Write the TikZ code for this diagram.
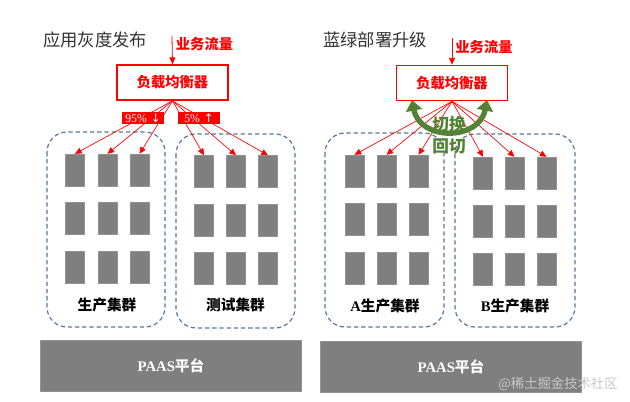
\documentclass[tikz,border=0pt]{standalone}
\usepackage{fontspec}
\setmainfont{Liberation Serif}
\newfontfamily\cjk{Noto Sans CJK SC}
\newfontfamily\symfont{DejaVu Sans}
\usetikzlibrary{arrows.meta,calc}
\definecolor{myred}{RGB}{255,0,0}
\definecolor{srvgray}{RGB}{127,127,127}
\definecolor{dashblue}{RGB}{84,120,160}
\definecolor{swgreen}{RGB}{84,130,53}
\definecolor{titlegray}{RGB}{50,50,50}
\newcommand\latb[1]{{\rmfamily\bfseries #1}}
\begin{document}
\begin{tikzpicture}[x=0.75pt,y=-0.75pt,
  srv/.style={fill=srvgray,draw=srvgray!85!white,line width=0.3pt,minimum width=14pt,minimum height=24pt,inner sep=0pt},
  cluster/.style={draw=dashblue,line width=0.9pt,dash pattern=on 3.2pt off 2.2pt,rounded corners=15pt},
  lbbox/.style={draw=myred,line width=1.1pt,fill=white,minimum width=83pt,minimum height=26.5pt,inner sep=0pt,text=myred,font=\cjk\bfseries\fontsize{10.7}{12}\selectfont},
  fan/.style={draw=myred,line width=0.5pt,-{Triangle[length=5pt,width=4.5pt]}},
  traffic/.style={draw=myred,line width=0.6pt,-{Triangle[length=5pt,width=4.5pt]}},
  trafficlbl/.style={text=myred,font=\cjk\bfseries\fontsize{10.7}{12}\selectfont},
  pct/.style={fill=myred,text=white,minimum width=31pt,minimum height=9pt,inner sep=0pt,font=\fontsize{8.8}{9}\selectfont},
  title/.style={text=titlegray,font=\cjk\fontsize{13}{15}\selectfont},
  clabel/.style={text=black,font=\cjk\bfseries\fontsize{11}{13}\selectfont},
  paas/.style={fill=srvgray,draw=srvgray!85!white,line width=0.3pt,minimum width=196pt,minimum height=38.5pt,inner sep=0pt,text=white,font=\bfseries\fontsize{11}{13}\selectfont},
  swarrow/.style={draw=swgreen,line width=4pt,{Triangle[length=8pt,width=12pt]}-{Triangle[length=8pt,width=12pt]}},
  swtext/.style={text=swgreen,font=\cjk\bfseries\fontsize{12.5}{14}\selectfont},
]
\useasboundingbox (0,0) rectangle (630,402);

% ---------- left half: gray release ----------
\node[title] (titleL) at (95,40) {应用灰度发布};
\draw[cluster] (47,132) rectangle (165,327);
\draw[cluster] (176,134) rectangle (295,328);
\foreach \c/\x in {1/75,2/107.5,3/139.5}{
  \node[srv] (p1\c) at (\x,170) {};
  \node[srv] (p2\c) at (\x,218.5) {};
  \node[srv] (p3\c) at (\x,267) {};
}
\foreach \c/\x in {1/204,2/236,3/268}{
  \node[srv] (t1\c) at (\x,171.5) {};
  \node[srv] (t2\c) at (\x,220) {};
  \node[srv] (t3\c) at (\x,268.5) {};
}
\node[clabel] (prodL) at (107,305) {生产集群};
\node[clabel] (testL) at (235.5,305) {测试集群};
\node[lbbox] (lbL) at (172.5,82.5) {负载均衡器};
\coordinate (inL) at (172,36);
\draw[traffic] (inL) -- (lbL.north);
\node[trafficlbl] (trL) at (204.5,44) {业务流量};
\foreach \b in {p11,p12,p13,t11,t12,t13}
  \draw[fan] (lbL.south) -- (\b.north);
\node[pct] (pct95) at (143,118) {95\%\,\,{\symfont ↓}};
\node[pct] (pct5) at (199,118) {5\%\,\,{\symfont ↑}};
\node[paas] (paasL) at (171,365.5) {PAAS{\cjk 平台}};

% ---------- right half: blue-green ----------
\node[title] (titleR) at (375,40) {蓝绿部署升级};
\draw[cluster] (325,133) rectangle (444,327);
\draw[cluster] (455,134) rectangle (575,327);
\foreach \c/\x in {1/354.5,2/386.5,3/418.5}{
  \node[srv] (a1\c) at (\x,171) {};
  \node[srv] (a2\c) at (\x,219) {};
  \node[srv] (a3\c) at (\x,268) {};
}
\foreach \c/\x in {1/483,2/514.5,3/546.5}{
  \node[srv] (b1\c) at (\x,173) {};
  \node[srv] (b2\c) at (\x,221) {};
  \node[srv] (b3\c) at (\x,269) {};
}
\node[clabel] (prodA) at (385,306) {\latb{A}生产集群};
\node[clabel] (prodB) at (515,306) {\latb{B}生产集群};
\node[lbbox] (lbR) at (452,83) {负载均衡器};
\coordinate (inR) at (452,38);
\draw[traffic] (inR) -- (lbR.north);
\node[trafficlbl] (trR) at (484,47) {业务流量};
\foreach \b in {a11,a12,a13,b11,b12,b13}
  \draw[fan] (lbR.south) -- (\b.north);
\coordinate (swL) at (412,100);
\coordinate (swR) at (487,100);
\draw[swarrow] (swL) .. controls (420,141) and (479,141) .. (swR);
\node[swtext] (sw1) at (449,124) {切换};
\node[swtext] (sw2) at (449,146) {回切};
\node[paas] (paasR) at (451,366.5) {PAAS{\cjk 平台}};

\node[text=black!22,font=\cjk\fontsize{10}{12}\selectfont] (wm) at (558,384) {@稀土掘金技术社区};
\end{tikzpicture}
\end{document}
